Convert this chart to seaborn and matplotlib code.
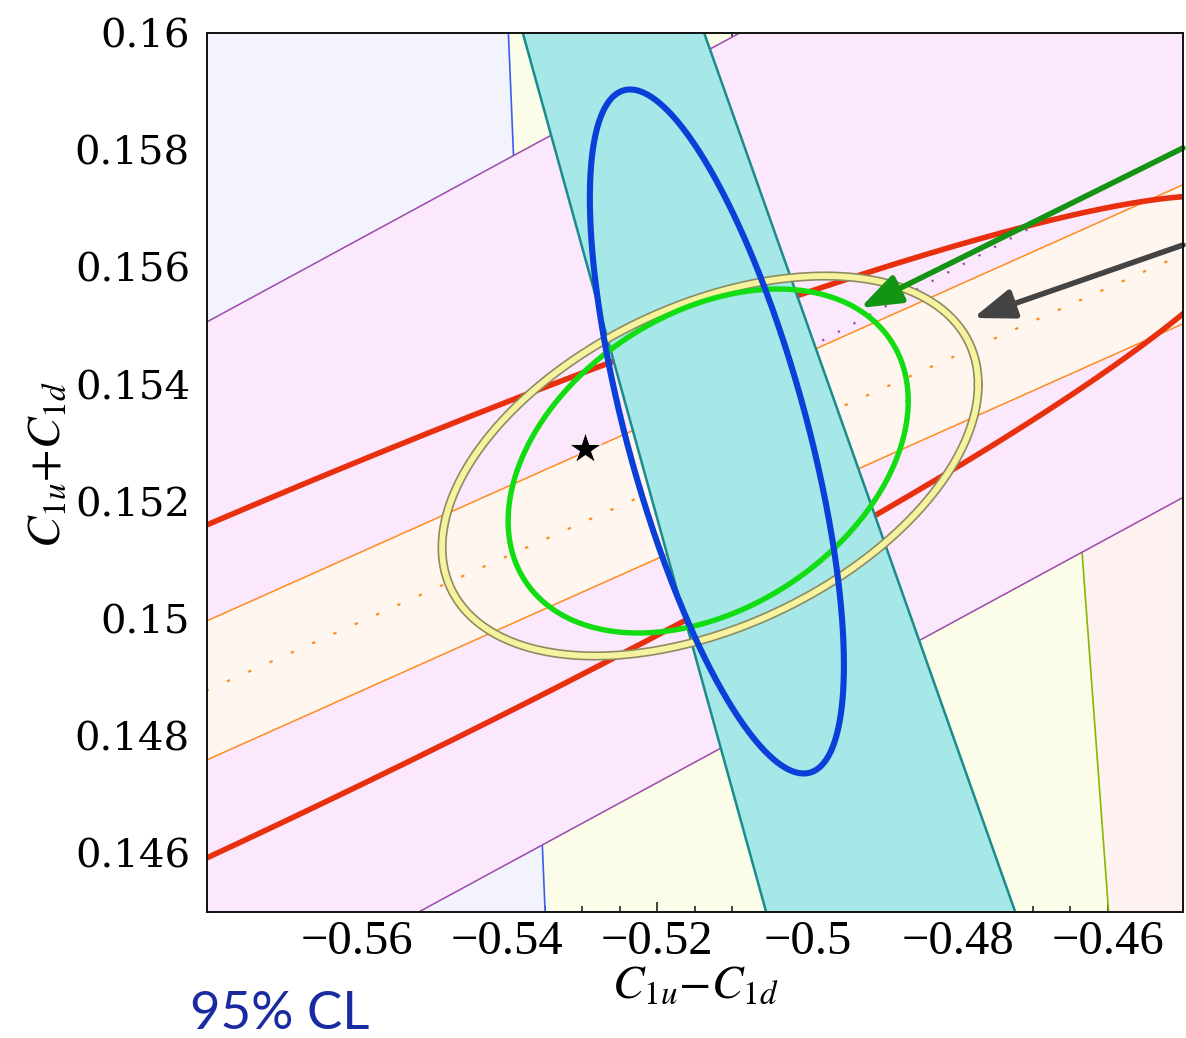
import numpy as np
import pandas as pd
import matplotlib
matplotlib.use("Agg")
import matplotlib.pyplot as plt
from matplotlib.patches import Polygon
from matplotlib.ticker import MultipleLocator
import seaborn as sns

# ---- axis ranges and ticks ----
x_range = [-0.58, -0.45]
y_range = [0.145, 0.16]
x_major = [-0.56, -0.54, -0.52, -0.50, -0.48, -0.46]
x_labels = ["\u22120.56", "\u22120.54", "\u22120.52", "\u22120.5", "\u22120.48", "\u22120.46"]
y_major = [0.146, 0.148, 0.150, 0.152, 0.154, 0.156, 0.158, 0.160]
y_labels = ["0.146", "0.148", "0.15", "0.152", "0.154", "0.156", "0.158", "0.16"]

# ---- straight bands: slope, centre value at x = -0.58, half width ----
band_magenta = [0.06951, 0.149053, 0.006015]
band_peach = [0.05727, 0.14878, 0.001186]

# ---- slanted bands / boundaries given by their x at y = edge_y ----
edge_y = [0.16, 0.145]
cyan_left_x = [-0.53791, -0.50551]
cyan_right_x = [-0.51376, -0.47234]
blue_edge_x = [-0.53983, -0.53494]
green_edge_x = [-0.46855, -0.45991]

# ---- 95% CL ellipses: centre x, centre y, half extent x, half extent y, correlation ----
ell_red = [-0.60143, 0.147536, 0.16156, 0.009686, 0.9552]
ell_blue = [-0.51207, 0.15320, 0.016915, 0.005836, -0.6827]
ell_yellow = [-0.51297, 0.152611, 0.035695, 0.003242, 0.429]
ell_green = [-0.51323, 0.152696, 0.026638, 0.002935, 0.349]

# ---- Standard Model point and arrows ----
star_point = [-0.5296, 0.1529]
arrow_green = [[-0.45, 0.158038], [-0.49299, 0.155307]]
arrow_gray = [[-0.45, 0.156382], [-0.47794, 0.155137]]


def ellipse_frame(p, n=721):
    cx, cy, sx, sy, rho = p
    t = np.linspace(0, 2 * np.pi, n)
    x = cx + sx * np.cos(t)
    y = cy + sy * (rho * np.cos(t) + np.sqrt(1 - rho ** 2) * np.sin(t))
    return pd.DataFrame({"x": x, "y": y, "k": np.arange(n)})


def band_lines(p, xs):
    s, c, h = p
    mid = c + s * (xs - x_range[0])
    return mid - h, mid, mid + h


def edge_at(xpair, y):
    # linear boundary through (xpair[0], edge_y[0]) and (xpair[1], edge_y[1])
    f = (np.asarray(y) - edge_y[0]) / (edge_y[1] - edge_y[0])
    return xpair[0] + f * (xpair[1] - xpair[0])


sns.set_theme(style="ticks")
plt.rcParams["mathtext.fontset"] = "stix"
plt.rcParams["text.color"] = "black"

fig = plt.figure(figsize=(11.86, 10.38), dpi=100)
ax = fig.add_axes([0.1743, 0.12139, 0.8232, 0.84682])
ax.set_facecolor("#fbfde9")

yy = np.array([0.143, 0.162])
xx = np.array([-0.60, -0.43])

# side regions
bx = edge_at(blue_edge_x, yy)
ax.fill([xx[0], bx[0], bx[1], xx[0]], [yy[0], yy[0], yy[1], yy[1]],
        color="#f3f3fd", lw=0, zorder=1.0)
ax.plot(bx, yy, color="#3a5cf0", lw=1.2, zorder=1.1)
gx = edge_at(green_edge_x, yy)
ax.fill([gx[0], xx[1], xx[1], gx[1]], [yy[0], yy[0], yy[1], yy[1]],
        color="#fdf2f0", lw=0, zorder=1.0)
ax.plot(gx, yy, color="#86b800", lw=1.2, zorder=1.1)

# wide magenta band
lo, mid_m, hi = band_lines(band_magenta, xx)
ax.fill_between(xx, lo, hi, color="#fce8fc", lw=0, zorder=1.2)
ax.plot(xx, lo, color="#9a4aa8", lw=1.1, zorder=1.3)
ax.plot(xx, hi, color="#9a4aa8", lw=1.1, zorder=1.3)

# red ellipse outline data (also clips the magenta centre line)
red_df = ellipse_frame(ell_red)
centre_line, = ax.plot(xx, mid_m, color="#9a4aa8", lw=1.6,
                       ls=(0, (1.0, 7)), zorder=1.35)
clip = Polygon(red_df[["x", "y"]].values, closed=True, transform=ax.transData)
centre_line.set_clip_path(clip)

# narrow peach band
lo, mid_p, hi = band_lines(band_peach, xx)
ax.fill_between(xx, lo, hi, color="#fff6ef", lw=0, zorder=1.4)
ax.plot(xx, lo, color="#ff8c1e", lw=1.1, zorder=1.5)
ax.plot(xx, hi, color="#ff8c1e", lw=1.1, zorder=1.5)
ax.plot(xx, mid_p, color="#ff8c1e", lw=1.6, ls=(0, (1.5, 9)), zorder=1.5)

sns.lineplot(data=red_df, x="x", y="y", sort=False, estimator=None,
             color="#e8300e", lw=4.0, ax=ax, zorder=1.6)

# cyan band
cl = edge_at(cyan_left_x, yy)
cr = edge_at(cyan_right_x, yy)
ax.fill([cl[0], cr[0], cr[1], cl[1]], [yy[0], yy[0], yy[1], yy[1]],
        color="#a6e7e8", lw=0, zorder=1.7)
ax.plot(cl, yy, color="#1a8c8c", lw=1.8, zorder=1.8)
ax.plot(cr, yy, color="#1a8c8c", lw=1.8, zorder=1.8)

# combined-fit ellipses
yel_df = ellipse_frame(ell_yellow)
sns.lineplot(data=yel_df, x="x", y="y", sort=False, estimator=None,
             color="#8c8c62", lw=6.6, ax=ax, zorder=2.0)
sns.lineplot(data=yel_df, x="x", y="y", sort=False, estimator=None,
             color="#f6f29e", lw=4.2, ax=ax, zorder=2.05)
sns.lineplot(data=ellipse_frame(ell_green), x="x", y="y", sort=False,
             estimator=None, color="#12dd12", lw=3.9, ax=ax, zorder=2.1)
sns.lineplot(data=ellipse_frame(ell_blue), x="x", y="y", sort=False,
             estimator=None, color="#0a40d8", lw=4.4, ax=ax, zorder=2.2)

# Standard Model value
ax.plot([star_point[0]], [star_point[1]], marker="*", ms=24, color="black",
        mec="white", mew=0.6, zorder=3)

# arrows
for (tail, head), col in [(arrow_green, "#139413"), (arrow_gray, "#444444")]:
    ax.annotate("", xy=head, xytext=tail,
                arrowprops=dict(arrowstyle="-|>,head_length=0.55,head_width=0.2",
                                color=col, lw=4.0, mutation_scale=45,
                                shrinkA=0, shrinkB=0),
                annotation_clip=False, zorder=3)

ax.set_xlim(*x_range)
ax.set_ylim(*y_range)

ax.set_xticks(x_major)
ax.set_xticklabels(x_labels, fontfamily="Liberation Serif", fontsize=35,
                   color="black")
ax.set_yticks(y_major)
ax.set_yticklabels(y_labels, fontfamily="DejaVu Serif", fontsize=29,
                   color="black")
ax.xaxis.set_minor_locator(MultipleLocator(0.005))
ax.yaxis.set_minor_locator(MultipleLocator(0.0005))
ax.tick_params(which="both", direction="in", top=True, right=True,
               width=1.1, color="#111111")
ax.tick_params(which="major", length=7)
ax.tick_params(which="minor", length=4)
ax.tick_params(axis="x", which="major", pad=6)
ax.tick_params(axis="y", which="major", pad=12)
for sp in ax.spines.values():
    sp.set_linewidth(1.4)
    sp.set_color("#111111")
    sp.set_zorder(5)

ax.set_xlabel("")
ax.set_ylabel("")
fig.text(695 / 1186, 1 - 985 / 1038, r"$C_{1u}{-}C_{1d}$", fontsize=34,
         ha="center", va="center")
fig.text(47 / 1186, 1 - 465 / 1038, r"$C_{1u}{+}C_{1d}$", fontsize=34,
         ha="center", va="center", rotation=90)
fig.text(190 / 1186, 1 - 1029 / 1038, "95% CL", fontsize=38,
         fontfamily="Lato", color="#1a2aa0", ha="left", va="baseline")

fig.savefig("out.png", dpi=100)
